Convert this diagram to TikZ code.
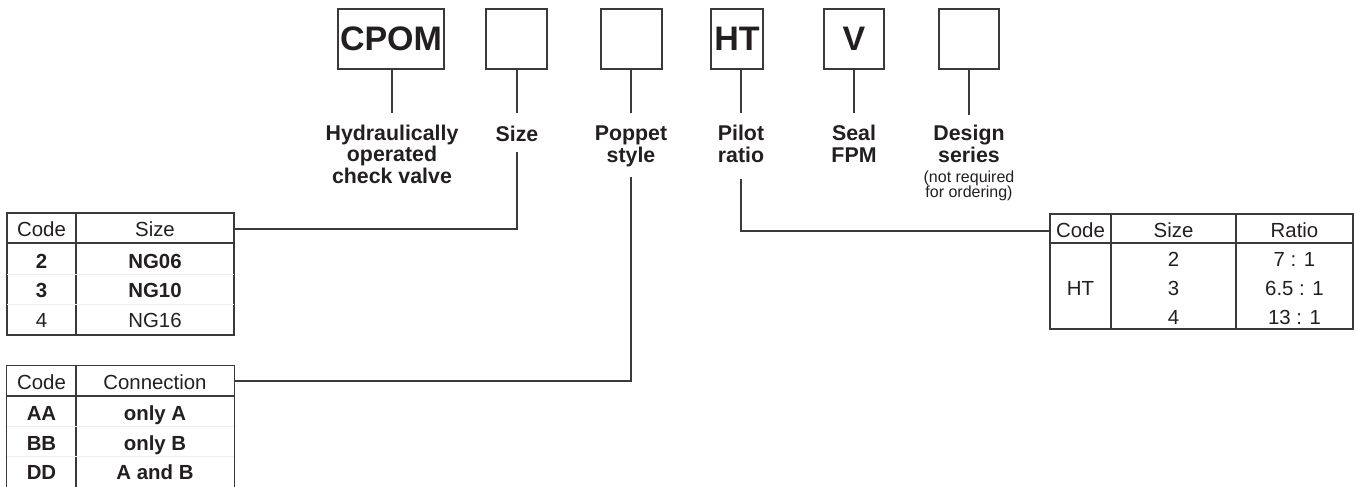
\documentclass[tikz,border=0pt]{standalone}
\usepackage{fontspec}
\setmainfont{Liberation Sans}
\definecolor{lnc}{HTML}{3A3A3A}
\definecolor{tx}{HTML}{231F20}
\definecolor{faint}{HTML}{EEEEEE}
\begin{document}
\begin{tikzpicture}[x=0.75pt,y=-0.75pt,
  ln/.style={draw=lnc, line width=1pt},
  faintln/.style={draw=faint, line width=0.6pt},
  codebox/.style={draw=lnc, line width=1pt, minimum height=60*0.75pt, inner sep=0pt,
    font=\fontsize{25.5}{26}\selectfont\bfseries, text=tx},
  lab/.style={align=center, font=\fontsize{16}{15.8}\selectfont\bfseries, inner sep=0pt, anchor=base, text=tx},
  note/.style={align=center, font=\fontsize{12}{11.6}\selectfont, inner sep=0pt, anchor=base, text=tx},
  cell/.style={font=\fontsize{15.3}{16}\selectfont, inner sep=0pt, anchor=base, text=tx},
  bcell/.style={cell, font=\fontsize{15.3}{16}\selectfont\bfseries},
  tabframe/.style={inner sep=0pt}
]
\useasboundingbox (0,0) rectangle (1357,486);

% code boxes
\node[codebox, minimum width=106*0.75pt] (bCPOM) at (391,39) {CPOM};
\node[codebox, minimum width=61*0.75pt] (bSize) at (516.5,39) {};
\node[codebox, minimum width=61*0.75pt] (bPop) at (631.5,39) {};
\node[codebox, minimum width=52*0.75pt] (bHT) at (737,39) {HT};
\node[codebox, minimum width=60*0.75pt] (bV) at (854,39) {V};
\node[codebox, minimum width=60*0.75pt] (bDes) at (969,39) {};

% stems below boxes
\coordinate (eCPOM) at (392,113);
\coordinate (eSize) at (517,113);
\coordinate (ePop) at (631,113);
\coordinate (eHT) at (741,113);
\coordinate (eV) at (854,113);
\coordinate (eDes) at (969,115);
\draw[ln] (eCPOM |- bCPOM.south) -- (eCPOM);
\draw[ln] (eSize |- bSize.south) -- (eSize);
\draw[ln] (ePop |- bPop.south) -- (ePop);
\draw[ln] (eHT |- bHT.south) -- (eHT);
\draw[ln] (eV |- bV.south) -- (eV);
\draw[ln] (eDes |- bDes.south) -- (eDes);

% labels (anchor base = baseline of the last line)
\node[lab] (lCPOM) at (392,183) {Hydraulically\\operated\\check valve};
\node[lab] (lSize) at (517,141) {Size};
\node[lab] (lPop) at (631,162) {Poppet\\style};
\node[lab] (lHT) at (741,162) {Pilot\\ratio};
\node[lab] (lV) at (854,162) {Seal\\FPM};
\node[lab] (lDes) at (969,162) {Design\\series};
\node[note] (nDes) at (969,197.5) {(not required\\for ordering)};

% table 1: size
\node[tabframe, draw=lnc, line width=1pt, minimum width=227*0.75pt, minimum height=122*0.75pt] (tab1) at (120.5,274) {};
\draw[ln] (7,243) -- (234,243);
\draw[ln] (76,213) -- (76,335);
\draw[faintln] (7,274) -- (234,274) (7,304) -- (234,304);
\node[cell] (t1h1) at (41.5,236.5) {Code};
\node[cell] (t1h2) at (155,236.5) {Size};
\node[bcell] (t1a1) at (41.5,268) {2};
\node[bcell] (t1a2) at (155,268) {NG06};
\node[bcell] (t1b1) at (41.5,297.5) {3};
\node[bcell] (t1b2) at (155,297.5) {NG10};
\node[cell] (t1c1) at (41.5,327.5) {4};
\node[cell] (t1c2) at (155,327.5) {NG16};

% table 2: connection
\node[tabframe, minimum width=227*0.75pt, minimum height=124*0.75pt] (tab2) at (120.5,428) {};
\draw[ln] (tab2.south west) -- (tab2.north west) -- (tab2.north east) -- (tab2.south east);
\draw[ln] (7,396) -- (234,396);
\draw[ln] (76,366) -- (76,490);
\draw[faintln] (7,426) -- (234,426) (7,456) -- (234,456);
\node[cell] (t2h1) at (41.5,389.3) {Code};
\node[cell] (t2h2) at (155,389.3) {Connection};
\node[bcell] (t2a1) at (41.5,420) {AA};
\node[bcell] (t2a2) at (155,420) {only A};
\node[bcell] (t2b1) at (41.5,450) {BB};
\node[bcell] (t2b2) at (155,450) {only B};
\node[bcell] (t2c1) at (41.5,479.5) {DD};
\node[bcell] (t2c2) at (155,479.5) {A and B};

% table 3: ratio
\node[tabframe, draw=lnc, line width=1pt, minimum width=303*0.75pt, minimum height=115*0.75pt] (tab3) at (1201.5,271.5) {};
\draw[ln] (1050,243) -- (1353,243);
\draw[ln] (1111,214) -- (1111,329);
\draw[ln] (1236,214) -- (1236,329);
\node[cell] (t3h1) at (1080.5,237.3) {Code};
\node[cell] (t3h2) at (1173.5,237.3) {Size};
\node[cell] (t3h3) at (1294.5,237.3) {Ratio};
\node[cell] (t3code) at (1080.5,295) {HT};
\node[cell] (t3a2) at (1173.5,266.7) {2};
\node[cell] (t3a3) at (1294.5,266.7) {7 : 1};
\node[cell] (t3b2) at (1173.5,295) {3};
\node[cell] (t3b3) at (1294.5,295) {6.5 : 1};
\node[cell] (t3c2) at (1173.5,324) {4};
\node[cell] (t3c3) at (1294.5,324) {13 : 1};

% connectors from labels to tables
\coordinate (sTop) at (517,152);
\coordinate (sTurn) at (517,229);
\draw[ln] (sTop) -- (sTurn) -- (sTurn -| tab1.east);
\coordinate (pTop) at (631,177);
\coordinate (pTurn) at (631,381);
\draw[ln] (pTop) -- (pTurn) -- (pTurn -| tab2.east);
\coordinate (rTop) at (741,179);
\coordinate (rTurn) at (741,231);
\draw[ln] (rTop) -- (rTurn) -- (rTurn -| tab3.west);
\end{tikzpicture}
\end{document}
